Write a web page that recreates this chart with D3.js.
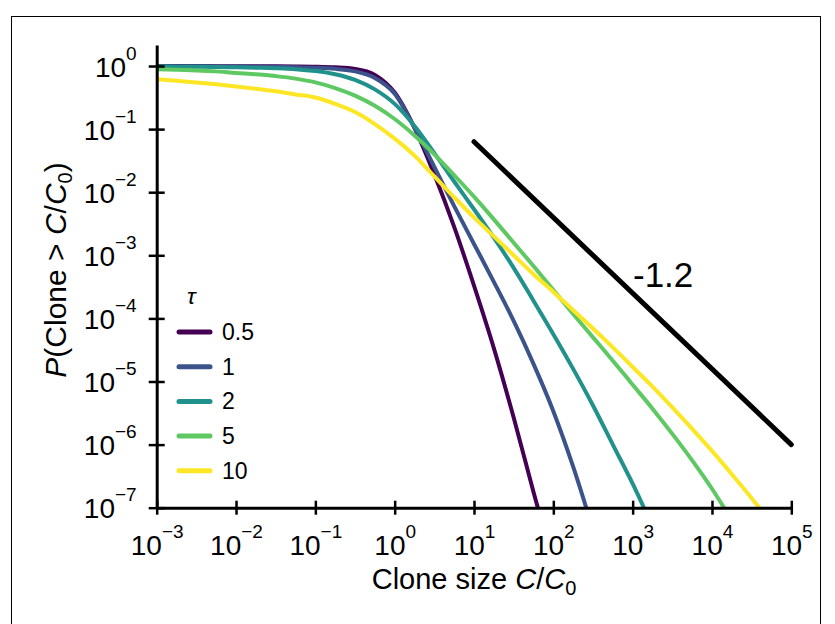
<!DOCTYPE html>
<html>
<head>
<meta charset="utf-8">
<script src="https://cdn.jsdelivr.net/npm/d3@7"></script>
<style>
  body { margin: 0; background: #fff; }
  svg text { font-family: "Liberation Sans", Arial, sans-serif; fill: #000; }
</style>
</head>
<body>
<div id="chart"></div>
<script>
"use strict";

// log10 of clone size C/C0 where each curve was read
var logSize = [-3, -2.75, -2.5, -2.25, -2, -1.75, -1.5, -1.25, -1, -0.75, -0.5, -0.25,
    0, 0.25, 0.5, 0.75, 1, 1.25, 1.5, 1.75, 2, 2.25, 2.5, 2.75, 3, 3.25, 3.5, 3.75,
    4, 4.25, 4.5, 4.75, 5];

var tauLabels = ["0.5", "1", "2", "5", "10"];
var tauColors = ["#440154", "#3b528b", "#21918c", "#5ec962", "#fde725"];

// log10 P(Clone > C/C0)
var logP_tau05 = [-0.001, -0.001, -0.001, -0.002, -0.002, -0.003, -0.004, -0.006, -0.01, -0.02, -0.045, -0.14,
    -0.42, -0.98, -1.72, -2.55, -3.48, -4.47, -5.57, -6.75, -7.9];
var logP_tau1 = [-0.003, -0.004, -0.005, -0.006, -0.008, -0.01, -0.013, -0.018, -0.027, -0.045, -0.085, -0.19,
    -0.44, -0.98, -1.6, -2.22, -2.82, -3.42, -4.04, -4.72, -5.47, -6.35, -7.35];
var logP_tau2 = [-0.008, -0.01, -0.012, -0.015, -0.02, -0.026, -0.035, -0.05, -0.08, -0.13, -0.22, -0.37,
    -0.6, -0.95, -1.38, -1.83, -2.27, -2.72, -3.2, -3.72, -4.25, -4.8, -5.38, -6.0, -6.62, -7.3];
var logP_tau5 = [-0.05, -0.06, -0.07, -0.085, -0.11, -0.13, -0.16, -0.2, -0.26, -0.35, -0.47, -0.63,
    -0.84, -1.1, -1.4, -1.73, -2.07, -2.43, -2.8, -3.17, -3.55, -3.93, -4.3, -4.67, -5.05, -5.43, -5.83, -6.25,
    -6.7, -7.2];
var logP_tau10 = [-0.21, -0.235, -0.26, -0.29, -0.325, -0.36, -0.4, -0.45, -0.5, -0.6, -0.73, -0.92,
    -1.15, -1.42, -1.75, -2.08, -2.4, -2.7, -3.0, -3.3, -3.58, -3.87, -4.16, -4.46, -4.77, -5.08, -5.41, -5.75,
    -6.1, -6.47, -6.85, -7.25];

var series = [logP_tau05, logP_tau1, logP_tau2, logP_tau5, logP_tau10];

// power-law guide, slope -1.2
var guideX = [10, 1e5];
var guideY = [0.063, 1e-6];
var guideLabel = "-1.2";

var xTickExp = [-3, -2, -1, 0, 1, 2, 3, 4, 5];
var yTickExp = [-7, -6, -5, -4, -3, -2, -1, 0];

var W = 835, H = 624;
var mLeft = 156.7, mRight = 791.3, mTop = 45, mBottom = 507.7;

var svg = d3.select("#chart").append("svg")
    .attr("width", W)
    .attr("height", H);

// frame
svg.append("rect")
    .attr("x", 11.5).attr("y", 16.5)
    .attr("width", 809).attr("height", 640)
    .attr("fill", "none")
    .attr("stroke", "#000")
    .attr("stroke-width", 1);

var x = d3.scaleLog().domain([1e-3, 1e5]).range([mLeft, mRight]);
var y = d3.scaleLog().domain([1e-7, Math.pow(10, 0.333)]).range([mBottom, mTop]);

svg.append("clipPath").attr("id", "plotclip")
    .append("rect")
    .attr("x", mLeft).attr("y", mTop - 10)
    .attr("width", mRight - mLeft + 5).attr("height", mBottom - mTop + 10);

var line = d3.line()
    .x(function(d) { return x(d[0]); })
    .y(function(d) { return y(d[1]); })
    .curve(d3.curveMonotoneX);

var curves = svg.append("g").attr("clip-path", "url(#plotclip)");

series.forEach(function(vals, i) {
    var pts = vals.map(function(v, j) {
        return [Math.pow(10, logSize[j]), Math.pow(10, v)];
    });
    curves.append("path")
        .datum(pts)
        .attr("fill", "none")
        .attr("stroke", tauColors[i])
        .attr("stroke-width", 4)
        .attr("d", line);
});

// guide line
svg.append("line")
    .attr("x1", x(guideX[0])).attr("y1", y(guideY[0]))
    .attr("x2", x(guideX[1])).attr("y2", y(guideY[1]))
    .attr("stroke", "#000")
    .attr("stroke-width", 5)
    .attr("stroke-linecap", "round");

svg.append("text")
    .attr("x", 633)
    .attr("y", 287)
    .style("font-size", "35px")
    .text(guideLabel);

// axes
var xAxis = svg.append("g")
    .attr("transform", "translate(0," + mBottom + ")")
    .call(d3.axisBottom(x)
        .tickValues(xTickExp.map(function(e) { return Math.pow(10, e); }))
        .tickSize(0).tickSizeOuter(0).tickFormat(""));

var yAxis = svg.append("g")
    .attr("transform", "translate(" + mLeft + ",0)")
    .call(d3.axisLeft(y)
        .tickValues(yTickExp.map(function(e) { return Math.pow(10, e); }))
        .tickSize(0).tickSizeOuter(0).tickFormat(""));

[xAxis, yAxis].forEach(function(g) {
    g.select(".domain").attr("stroke", "#000").attr("stroke-width", 3);
});

xAxis.selectAll(".tick").each(function(d, i) {
    var t = d3.select(this);
    t.append("line").attr("y1", -7).attr("y2", 7)
        .attr("stroke", "#000").attr("stroke-width", 2.5);
    var txt = t.append("text")
        .attr("y", 47)
        .attr("text-anchor", "middle")
        .style("font-size", "28px");
    txt.append("tspan").text("10");
    var e = xTickExp[i];
    txt.append("tspan")
        .attr("dy", -17)
        .style("font-size", "19px")
        .text(e < 0 ? "\u2212" + (-e) : String(e));
});

yAxis.selectAll(".tick").each(function(d, i) {
    var t = d3.select(this);
    t.append("line").attr("x1", -8).attr("x2", 8)
        .attr("stroke", "#000").attr("stroke-width", 2.5);
    var e = yTickExp[i];
    var txt = t.append("text")
        .attr("x", -20)
        .attr("y", 10)
        .attr("text-anchor", "end")
        .style("font-size", "28px");
    txt.append("tspan").text("10");
    txt.append("tspan")
        .attr("dy", -17)
        .style("font-size", "19px")
        .text(e < 0 ? "\u2212" + (-e) : String(e));
});

// axis titles
var xt = svg.append("text")
    .attr("x", (mLeft + mRight) / 2)
    .attr("y", 589)
    .attr("text-anchor", "middle")
    .style("font-size", "29px");
xt.append("tspan").text("Clone size ");
xt.append("tspan").style("font-style", "italic").text("C");
xt.append("tspan").text("/");
xt.append("tspan").style("font-style", "italic").text("C");
xt.append("tspan").attr("dy", 6).style("font-size", "20px").text("0");

var yt = svg.append("text")
    .attr("transform", "translate(66,270) rotate(-90)")
    .attr("text-anchor", "middle")
    .style("font-size", "30px");
yt.append("tspan").style("font-style", "italic").text("P");
yt.append("tspan").text("(Clone > ");
yt.append("tspan").style("font-style", "italic").text("C");
yt.append("tspan").text("/");
yt.append("tspan").style("font-style", "italic").text("C");
yt.append("tspan").attr("dy", 6).style("font-size", "20px").text("0");
yt.append("tspan").attr("dy", -6).text(")");

// legend
var legend = svg.append("g").attr("transform", "translate(177,0)");
legend.append("text")
    .attr("x", 10)
    .attr("y", 304)
    .style("font-size", "23px")
    .style("font-style", "italic")
    .text("\u03c4");

tauLabels.forEach(function(lab, i) {
    var ly = 332 + i * 34.7;
    legend.append("line")
        .attr("x1", 2).attr("x2", 33)
        .attr("y1", ly).attr("y2", ly)
        .attr("stroke", tauColors[i])
        .attr("stroke-width", 5)
        .attr("stroke-linecap", "round");
    legend.append("text")
        .attr("x", 45)
        .attr("y", ly + 8)
        .style("font-size", "23px")
        .text(lab);
});
</script>
</body>
</html>
